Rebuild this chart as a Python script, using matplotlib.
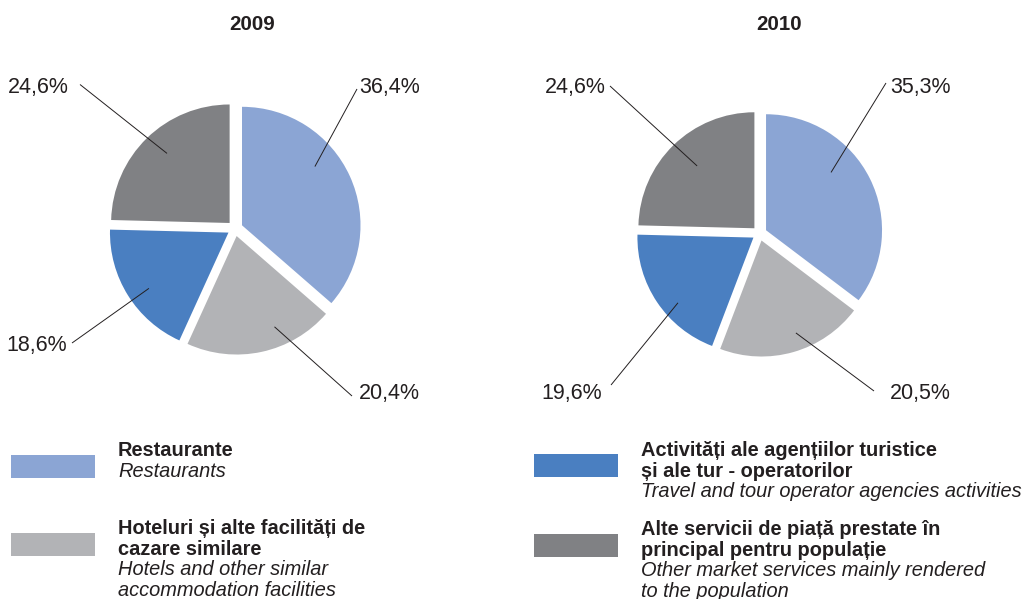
import math

import matplotlib
matplotlib.use("Agg")
import matplotlib.pyplot as plt

# ---- data -------------------------------------------------------------------
YEARS = ["2009", "2010"]
SHARES_2009 = [36.4, 20.4, 18.6, 24.6]
SHARES_2010 = [35.3, 20.5, 19.6, 24.6]

CATEGORIES_RO = [
    "Restaurante",
    "Hoteluri și alte facilități de\ncazare similare",
    "Activități ale agențiilor turistice\nși ale tur - operatorilor",
    "Alte servicii de piață prestate în\nprincipal pentru populație",
]
CATEGORIES_EN = [
    "Restaurants",
    "Hotels and other similar\naccommodation facilities",
    "Travel and tour operator agencies activities",
    "Other market services mainly rendered\nto the population",
]
COLORS = ["#8ba5d4", "#b2b3b6", "#4a7fc1", "#808184"]

# ---- style / layout ---------------------------------------------------------
W, H = 1025, 599
INK = "#231f20"
FONT = "Liberation Sans"
plt.rcParams["font.family"] = [FONT, "DejaVu Sans"]

# pie layout in pixel units (y measured from the top)
PIES = [
    dict(center=(235, 228.5), radius=118.5, gap=7.7, title_x=252),
    dict(center=(759.5, 233.5), radius=116, gap=7.3, title_x=779.5),
]
# per-slice label layout: (text x, baseline y, ha, line outer end, anchor angle shift, anchor radius frac)
LABELS = [
    [
        (359, 93, "left", (357, 89), 14.4, 0.79),
        (359, 399.5, "left", (352, 396), 10.4, 0.83),
        (67, 351, "right", (72, 343), 3.0, 0.82),
        (69, 93, "right", (80, 84.5), -2.3, 0.79),
    ],
    [
        (890, 93, "left", (886, 83), 15.2, 0.75),
        (890, 399.5, "left", (874, 391), 4.4, 0.85),
        (602, 399.5, "right", (611, 385), 7.0, 0.86),
        (606, 93, "right", (610, 86), -1.7, 0.73),
    ],
]


def fy(y):
    return H - y


def pct(v):
    return f"{v:.1f}".replace(".", ",") + "%"


fig = plt.figure(figsize=(W / 100, H / 100), dpi=100)
ax = fig.add_axes([0, 0, 1, 1])

for shares, year, pie, labels in zip([SHARES_2009, SHARES_2010], YEARS, PIES, LABELS):
    cx, cy = pie["center"]
    wedges, _ = ax.pie(shares, colors=COLORS, startangle=90, counterclock=False,
                       center=(cx, fy(cy)), radius=pie["radius"],
                       explode=[pie["gap"]] * len(shares),
                       wedgeprops=dict(linewidth=0))
    for w, v, (tx, ty, ha, outer, dang, frac) in zip(wedges, shares, labels):
        mid = math.radians(0.5 * (w.theta1 + w.theta2) + dang)
        ax0, ay0 = w.center
        ix = ax0 + frac * w.r * math.cos(mid)
        iy = ay0 + frac * w.r * math.sin(mid)
        ax.plot([ix, outer[0]], [iy, fy(outer[1])], color=INK, lw=0.7,
                solid_capstyle="butt")
        ax.text(tx, fy(ty), pct(v), ha=ha, va="baseline", fontsize=15.5, color=INK)
    ax.text(pie["title_x"], fy(29.5), year, ha="center", va="baseline",
            fontsize=14.8, fontweight="bold", color=INK)

# ---- legend -----------------------------------------------------------------
LEG = [
    (11, 455, 118, 456),
    (11, 533, 118, 534),
    (534, 454, 641, 456),
    (534, 534, 641, 535),
]
LINE = 20.6
for (rx, ry, tx, ty), ro, en, col in zip(LEG, CATEGORIES_RO, CATEGORIES_EN, COLORS):
    ax.add_patch(plt.Rectangle((rx, fy(ry + 23)), 84, 23, color=col, lw=0))
    y = ty
    for line in ro.split("\n"):
        ax.text(tx, fy(y), line, fontsize=14.4, fontweight="bold", color=INK,
                va="baseline")
        y += LINE
    for line in en.split("\n"):
        ax.text(tx, fy(y), line, fontsize=14.4, fontstyle="italic", color=INK,
                va="baseline")
        y += LINE

ax.set_xlim(0, W)
ax.set_ylim(0, H)
ax.set_aspect("auto")
ax.axis("off")
fig.savefig("out.png", dpi=100)
